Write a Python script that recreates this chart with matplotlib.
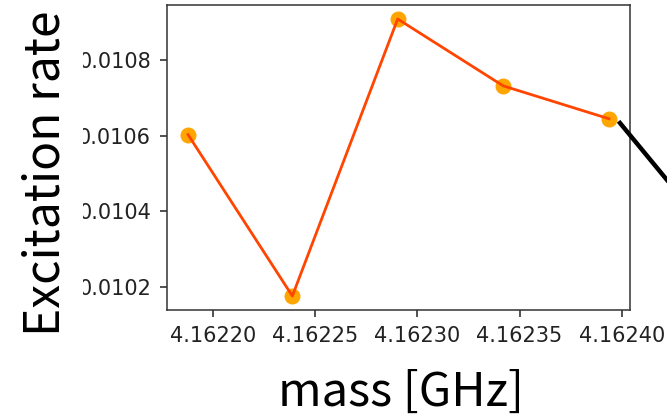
import matplotlib
matplotlib.use('Agg')
import matplotlib.pyplot as plt
from matplotlib.lines import Line2D
from matplotlib.patches import Rectangle

# mass [GHz] and excitation rate
mass = [4.1621876, 4.1622387, 4.1622903, 4.162342, 4.1623938]
rate = [0.010603, 0.010176, 0.010909, 0.010732, 0.010645]

xticks = [4.16220, 4.16225, 4.16230, 4.16235, 4.16240]
yticks = [0.0102, 0.0104, 0.0106, 0.0108]

fig = plt.figure(figsize=(6.67, 4.18), dpi=100)
ax = fig.add_axes([167 / 667, 1 - 310 / 418, 463 / 667, 305 / 418])

ax.scatter(mass, rate, s=110, color='orange', zorder=2)
ax.plot(mass, rate, color='orangered', linewidth=2.0, zorder=3)

ax.set_xlim(4.1621773, 4.1624041)
ax.set_ylim(0.010139, 0.010946)
ax.set_xticks(xticks)
ax.set_xticklabels(['%.5f' % v for v in xticks])
ax.set_yticks(yticks)
ax.set_yticklabels(['%.4f' % v for v in yticks])
ax.tick_params(labelsize=15, length=5, width=1.1, pad=6.5, colors='#222222')
for s in ax.spines.values():
    s.set_linewidth(1.1)
    s.set_color('#333333')

# the big label boxes sit over the left edge of the y tick labels
fig.add_artist(Rectangle((0, 0), 82.7 / 667, 1, facecolor='white',
                         edgecolor='none', transform=fig.transFigure, zorder=1))

cjk = ['Noto Sans CJK JP', 'DejaVu Sans']
fig.text(60 / 667, 1 - 173 / 418, 'Excitation rate', rotation=90,
         rotation_mode='anchor', ha='center', va='baseline',
         fontsize=34.5, family=cjk, zorder=3)
fig.text(401 / 667, 1 - 406 / 418, 'mass [GHz]',
         ha='center', va='baseline', fontsize=34, family=cjk, zorder=3)

# callout line leaving the plot on the right
fig.add_artist(Line2D([620 / 667, 667 / 667], [1 - 123 / 418, 1 - 180 / 418],
                      color='black', linewidth=3.2, transform=fig.transFigure))

fig.savefig('out.png', dpi=100)
